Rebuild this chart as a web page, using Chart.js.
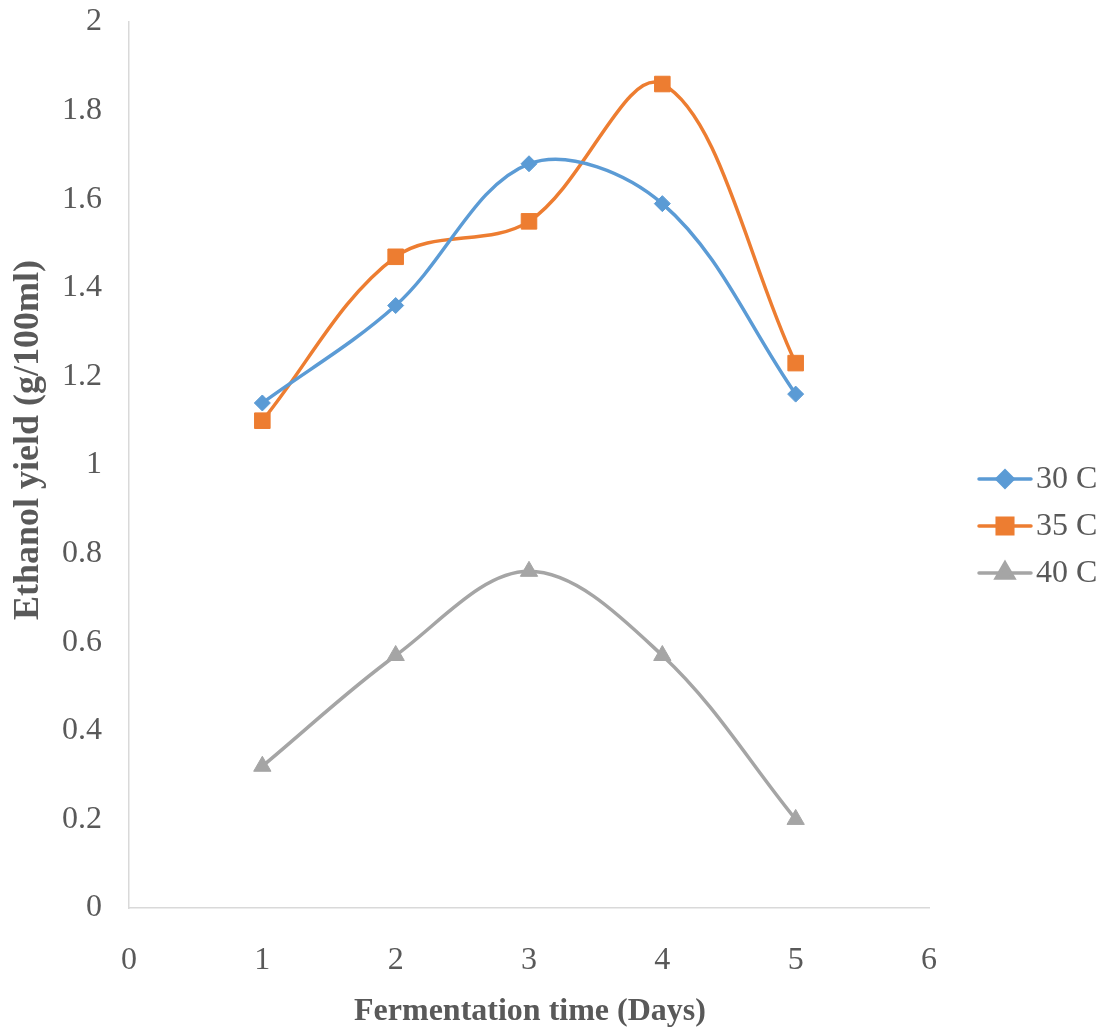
<!DOCTYPE html>
<html>
<head>
<meta charset="utf-8">
<script src="https://cdn.jsdelivr.net/npm/chart.js@4/dist/chart.umd.min.js"></script>
<style>
  html, body { margin: 0; padding: 0; background: #fff; }
  #wrap { width: 1105px; height: 1034px; }
</style>
</head>
<body>
<div id="wrap"><canvas id="yieldChart"></canvas></div>
<script>
// данные
const days = [1, 2, 3, 4, 5];
const yield30 = [1.14, 1.36, 1.68, 1.59, 1.16];
const yield35 = [1.10, 1.47, 1.55, 1.86, 1.23];
const yield40 = [0.32, 0.57, 0.76, 0.57, 0.20];
const seriesLabels = ['30 C', '35 C', '40 C'];

const FONT = "'Times New Roman', 'Liberation Serif', serif";
const GREY_TEXT = '#595959';

function points(values) {
    return days.map((d, i) => ({ x: d, y: values[i] }));
}

// легенда справа: линия + маркер + подпись
const sideLegend = {
    id: 'sideLegend',
    afterDraw(chart) {
        const ctx = chart.ctx;
        const rows = [479, 526, 573];
        chart.data.datasets.forEach((ds, i) => {
            const y = rows[i];
            ctx.save();
            ctx.strokeStyle = ds.borderColor;
            ctx.lineWidth = 3.5;
            ctx.lineCap = 'round';
            ctx.beginPath();
            ctx.moveTo(979, y);
            ctx.lineTo(1031, y);
            ctx.stroke();
            ctx.fillStyle = ds.pointBackgroundColor;
            ctx.strokeStyle = ds.pointBackgroundColor;
            Chart.helpers.drawPoint(ctx, {
                pointStyle: ds.pointStyle,
                radius: ds.pointRadius,
                rotation: 0,
                borderWidth: 1
            }, 1005, y);
            ctx.fillStyle = GREY_TEXT;
            ctx.font = '32px ' + FONT;
            ctx.textAlign = 'left';
            ctx.textBaseline = 'middle';
            ctx.fillText(ds.label, 1036, y + 1);
            ctx.restore();
        });

        // подписи осей
        ctx.save();
        ctx.fillStyle = GREY_TEXT;
        ctx.textAlign = 'center';
        ctx.textBaseline = 'middle';
        ctx.font = 'bold 32px ' + FONT;
        ctx.fillText('Fermentation time (Days)', 530, 1012);
        ctx.font = 'bold 36px ' + FONT;
        ctx.translate(29, 440);
        ctx.rotate(-Math.PI / 2);
        ctx.fillText('Ethanol yield (g/100ml)', 0, 0);
        ctx.restore();
    }
};

function makeSet(label, values, color, style, radius) {
    return {
        label: label,
        data: points(values),
        borderColor: color,
        backgroundColor: color,
        pointBackgroundColor: color,
        pointBorderColor: color,
        pointBorderWidth: 1,
        pointStyle: style,
        pointRadius: radius,
        pointHoverRadius: radius,
        borderWidth: 3.5,
        tension: 0.35,
        fill: false,
        clip: false
    };
}

new Chart(document.getElementById('yieldChart').getContext('2d'), {
    type: 'line',
    data: {
        datasets: [
            makeSet(seriesLabels[0], yield30, '#5B9BD5', 'rectRot', 8),
            makeSet(seriesLabels[1], yield35, '#ED7D31', 'rect', 11),
            makeSet(seriesLabels[2], yield40, '#A5A5A5', 'triangle', 10)
        ]
    },
    options: {
        responsive: true,
        maintainAspectRatio: false,
        animation: false,
        layout: {
            padding: { left: 0, right: 176, top: 22, bottom: 0 }
        },
        plugins: {
            legend: { display: false },
            tooltip: { enabled: false }
        },
        scales: {
            x: {
                type: 'linear',
                min: 0,
                max: 6,
                afterFit(scale) {
                    scale.height = 126;
                    scale.paddingLeft = 0;
                    scale.paddingRight = 0;
                },
                grid: { display: false, drawTicks: false },
                border: { color: '#D9D9D9', width: 1.5 },
                ticks: {
                    stepSize: 1,
                    padding: 33,
                    color: GREY_TEXT,
                    font: { family: FONT, size: 32 }
                }
            },
            y: {
                min: 0,
                max: 2,
                afterFit(scale) {
                    scale.width = 129;
                    scale.paddingTop = 0;
                    scale.paddingBottom = 0;
                },
                grid: { display: false, drawTicks: false },
                border: { color: '#D9D9D9', width: 1.5 },
                ticks: {
                    stepSize: 0.2,
                    padding: 27,
                    color: GREY_TEXT,
                    font: { family: FONT, size: 32 },
                    callback: v => String(+v.toFixed(1))
                }
            }
        }
    },
    plugins: [sideLegend]
});
</script>
</body>
</html>
